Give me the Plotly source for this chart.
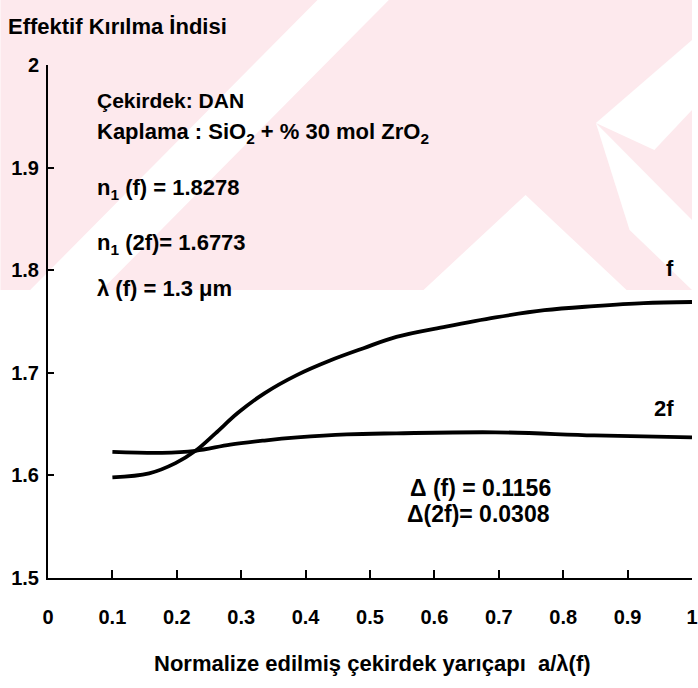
import plotly.graph_objects as go

# ---- data ----
x_f = [0.10, 0.157, 0.198, 0.229, 0.26, 0.295, 0.336, 0.387, 0.438, 0.49, 0.541, 0.618, 0.695, 0.771, 0.848, 0.925, 1.0]
y_f = [1.598, 1.602, 1.612, 1.624, 1.641, 1.661, 1.680, 1.698, 1.712, 1.724, 1.735, 1.745, 1.754, 1.761, 1.765, 1.768, 1.769]

x_2f = [0.10, 0.177, 0.229, 0.283, 0.336, 0.387, 0.464, 0.541, 0.695, 0.848, 1.0]
y_2f = [1.623, 1.622, 1.624, 1.630, 1.634, 1.637, 1.640, 1.641, 1.642, 1.639, 1.637]

x_ticks = [0, 0.1, 0.2, 0.3, 0.4, 0.5, 0.6, 0.7, 0.8, 0.9, 1.0]
x_tick_labels = ["0", "0.1", "0.2", "0.3", "0.4", "0.5", "0.6", "0.7", "0.8", "0.9", "1"]
y_ticks = [1.5, 1.6, 1.7, 1.8, 1.9, 2.0]
y_tick_labels = ["1.5", "1.6", "1.7", "1.8", "1.9", "2"]

W, H = 698, 688
L, R, T, B = 48, 0, 65, 110
FONT = "Liberation Sans"

def px(xp):
    return (xp - L) / (W - L - R)

def py(yp):
    return (H - B - yp) / (H - T - B)

fig = go.Figure()
for xs, ys in [(x_f, y_f), (x_2f, y_2f)]:
    fig.add_trace(go.Scatter(x=xs, y=ys, mode="lines",
                             line=dict(color="black", width=3.8, shape="spline", smoothing=1.0),
                             showlegend=False, hoverinfo="skip"))

# light pink watermark (decoration)
pink = "rgb(253,233,237)"
shapes = [
    dict(type="rect", xref="paper", yref="paper", x0=px(0), x1=px(W), y0=py(290), y1=py(0),
         fillcolor=pink, line_width=0, layer="below"),
]
def poly(pts, color):
    path = "M " + " L ".join(f"{px(a)},{py(b)}" for a, b in pts) + " Z"
    return dict(type="path", xref="paper", yref="paper", path=path, fillcolor=color,
                line_width=0, layer="below")
shapes.append(poly([(320, 0), (392, 0), (102, 290), (30, 290)], "white"))
shapes.append(poly([(530, 195), (632, 290), (427, 290)], "white"))
shapes.append(poly([(601, 123), (698, 40), (698, 110), (660, 150)], "white"))
shapes.append(poly([(601, 123), (698, 220), (698, 290), (635, 230)], "white"))

anns = []
def note(text, xp, yp, xanchor="left", size=22):
    anns.append(dict(text=text, x=px(xp), y=py(yp), xref="paper", yref="paper",
                     xanchor=xanchor, yanchor="middle", showarrow=False,
                     font=dict(family=FONT, size=size, color="black", weight="bold")))

note("Effektif Kırılma İndisi", 6, 27, size=22)
note("Çekirdek: DAN", 95, 100, size=21)
note("Kaplama : SiO<sub>2</sub> + % 30 mol ZrO<sub>2</sub>", 95, 133, size=22)
note("n<sub>1</sub> (f) = 1.8278", 95, 189, size=22)
note("n<sub>1</sub> (2f)= 1.6773", 95, 244, size=22)
note("λ (f) = 1.3 μm", 95, 288, size=22)
note("f", 676, 268, xanchor="center", size=22)
note("2f", 670, 408, xanchor="center", size=22)
note("Δ (f) = 0.1156", 411, 488, size=23)
note("Δ(2f)= 0.0308", 408, 514, size=23)
note("Normalize edilmiş çekirdek yarıçapı  a/λ(f)", 376, 664, xanchor="center", size=22)

tick_font = dict(family=FONT, size=20, color="black", weight="bold")
fig.update_layout(
    width=W, height=H,
    margin=dict(l=L, r=R, t=T, b=B),
    paper_bgcolor="white", plot_bgcolor="rgba(0,0,0,0)",
    shapes=shapes, annotations=anns,
    xaxis=dict(range=[0, 1.0], tickvals=x_ticks, ticktext=x_tick_labels,
               showgrid=False, zeroline=False, showline=True, linecolor="black", linewidth=2,
               ticks="inside", ticklen=8, tickwidth=1.5, tickcolor="black",
               tickfont=tick_font, ticklabelstandoff=20, ticklabeloverflow="allow",
               fixedrange=True),
    yaxis=dict(range=[1.5, 2.0], tickvals=y_ticks, ticktext=y_tick_labels,
               showgrid=False, zeroline=False, showline=True, linecolor="black", linewidth=2,
               ticks="inside", ticklen=6, tickwidth=1.5, tickcolor="black",
               tickfont=tick_font, ticklabelstandoff=3, fixedrange=True),
)

fig.write_html("out.html")
